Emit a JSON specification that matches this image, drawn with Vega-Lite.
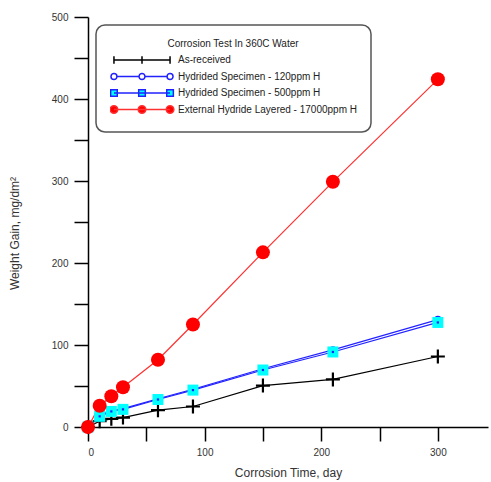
{
  "$schema": "https://vega.github.io/schema/vega-lite/v6.json",
  "width": 400,
  "height": 410,
  "autosize": "none",
  "padding": {"left": 88, "top": 17, "right": 3, "bottom": 55},
  "background": "white",
  "config": {
    "view": {"stroke": null},
    "font": "Liberation Sans",
    "axis": {
      "grid": false,
      "domainColor": "#000000",
      "domainWidth": 1.5,
      "tickColor": "#000000",
      "tickWidth": 1.5,
      "tickSize": 14,
      "labelFont": "Liberation Sans",
      "labelFontSize": 10,
      "labelColor": "#333333",
      "titleFont": "Liberation Sans",
      "titleFontSize": 12,
      "titleFontWeight": "normal",
      "titleColor": "#333333"
    },
    "legend": {"strokeWidth": 1.5}
  },
  "data": {
    "values": [
      {"series": "As-received", "day": 0, "gain": 0},
      {"series": "As-received", "day": 10, "gain": 7},
      {"series": "As-received", "day": 20, "gain": 10},
      {"series": "As-received", "day": 30, "gain": 11.5},
      {"series": "As-received", "day": 60, "gain": 20.5},
      {"series": "As-received", "day": 90, "gain": 25},
      {"series": "As-received", "day": 150, "gain": 50.5},
      {"series": "As-received", "day": 210, "gain": 58},
      {"series": "As-received", "day": 300, "gain": 86},
      {"series": "Hydrided Specimen - 120ppm H", "day": 0, "gain": 0},
      {"series": "Hydrided Specimen - 120ppm H", "day": 10, "gain": 14},
      {"series": "Hydrided Specimen - 120ppm H", "day": 20, "gain": 20},
      {"series": "Hydrided Specimen - 120ppm H", "day": 30, "gain": 22.5},
      {"series": "Hydrided Specimen - 120ppm H", "day": 60, "gain": 34.5},
      {"series": "Hydrided Specimen - 120ppm H", "day": 90, "gain": 46},
      {"series": "Hydrided Specimen - 120ppm H", "day": 150, "gain": 71},
      {"series": "Hydrided Specimen - 120ppm H", "day": 210, "gain": 94},
      {"series": "Hydrided Specimen - 120ppm H", "day": 300, "gain": 131},
      {"series": "Hydrided Specimen - 500ppm H", "day": 0, "gain": 0},
      {"series": "Hydrided Specimen - 500ppm H", "day": 10, "gain": 13},
      {"series": "Hydrided Specimen - 500ppm H", "day": 20, "gain": 19},
      {"series": "Hydrided Specimen - 500ppm H", "day": 30, "gain": 21.5},
      {"series": "Hydrided Specimen - 500ppm H", "day": 60, "gain": 33.5},
      {"series": "Hydrided Specimen - 500ppm H", "day": 90, "gain": 45},
      {"series": "Hydrided Specimen - 500ppm H", "day": 150, "gain": 69.5},
      {"series": "Hydrided Specimen - 500ppm H", "day": 210, "gain": 91.5},
      {"series": "Hydrided Specimen - 500ppm H", "day": 300, "gain": 127.5},
      {"series": "External Hydride Layered - 17000ppm H", "day": 0, "gain": 0},
      {"series": "External Hydride Layered - 17000ppm H", "day": 10, "gain": 26},
      {"series": "External Hydride Layered - 17000ppm H", "day": 20, "gain": 37.5},
      {"series": "External Hydride Layered - 17000ppm H", "day": 30, "gain": 48.5},
      {"series": "External Hydride Layered - 17000ppm H", "day": 60, "gain": 82},
      {"series": "External Hydride Layered - 17000ppm H", "day": 90, "gain": 125},
      {"series": "External Hydride Layered - 17000ppm H", "day": 150, "gain": 213},
      {"series": "External Hydride Layered - 17000ppm H", "day": 210, "gain": 299},
      {"series": "External Hydride Layered - 17000ppm H", "day": 300, "gain": 424}
    ]
  },
  "encoding": {
    "x": {
      "field": "day",
      "type": "quantitative",
      "scale": {"domain": [0, 343], "nice": false, "zero": false},
      "axis": {
        "title": "Corrosion Time, day",
        "values": [0, 50, 100, 150, 200, 250, 300],
        "labelExpr": "datum.value % 100 === 0 ? datum.label : ''",
        "labelPadding": 6,
        "titlePadding": 10,
        "encode": {"ticks": {"update": {"y2": {"signal": "datum.value % 100 === 0 ? 14 : 8"}}}}
      }
    },
    "y": {
      "field": "gain",
      "type": "quantitative",
      "scale": {"domain": [0, 500], "nice": false},
      "axis": {
        "title": "Weight Gain, mg/dm²",
        "values": [0, 50, 100, 150, 200, 250, 300, 350, 400, 450, 500],
        "labelExpr": "datum.value % 100 === 0 ? datum.label : ''",
        "labelPadding": 6,
        "titleX": -67,
        "titleY": 216,
        "encode": {"ticks": {"update": {"x2": {"signal": "datum.value % 100 === 0 ? -14 : -8"}}}}
      }
    }
  },
  "layer": [
    {
      "mark": {"type": "line", "strokeWidth": 1.2},
      "encoding": {
        "color": {
          "field": "series",
          "type": "nominal",
          "scale": {
            "domain": ["As-received", "Hydrided Specimen - 120ppm H", "Hydrided Specimen - 500ppm H", "External Hydride Layered - 17000ppm H"],
            "range": ["#000000", "#2222ff", "#2222ff", "#ff3030"]
          },
          "legend": {
            "orient": "none",
            "legendX": 8,
            "legendY": 8,
            "title": "Corrosion Test In 360C Water",
            "titleAnchor": "middle",
            "titleFont": "Liberation Sans",
            "titleFontWeight": "normal",
            "titleFontSize": 10,
            "titleColor": "#222222",
            "titlePadding": 3,
            "labelFont": "Liberation Sans",
            "labelFontSize": 10,
            "labelColor": "#222222",
            "labelOffset": 2,
            "labelLimit": 400,
            "symbolSize": 4356,
            "symbolStrokeWidth": 1.5,
            "symbolOffset": -2,
            "clipHeight": 16,
            "rowPadding": 0.5,
            "padding": 14,
            "cornerRadius": 9,
            "strokeColor": "#555555",
            "fillColor": "#ffffff",
            "encode": {
              "symbols": {
                "update": {
                  "shape": {"signal": "datum.value === 'As-received' ? 'M-0.85,0H0.85M-0.85,-0.11V0.11M0,-0.11V0.11M0.85,-0.11V0.11' : datum.value === 'Hydrided Specimen - 120ppm H' ? 'M-0.76,0H-0.09M0.09,0H0.76M-0.76,0A0.09,0.09,0,1,1,-0.94,0A0.09,0.09,0,1,1,-0.76,0ZM0.09,0A0.09,0.09,0,1,1,-0.09,0A0.09,0.09,0,1,1,0.09,0ZM0.94,0A0.09,0.09,0,1,1,0.76,0A0.09,0.09,0,1,1,0.94,0Z' : datum.value === 'Hydrided Specimen - 500ppm H' ? 'M-0.85,0H0.85M-0.95,-0.1H-0.75V0.1H-0.95ZM-0.1,-0.1H0.1V0.1H-0.1ZM0.75,-0.1H0.95V0.1H0.75Z' : 'M-0.85,0H0.85M-0.735,0A0.115,0.115,0,1,1,-0.965,0A0.115,0.115,0,1,1,-0.735,0ZM0.115,0A0.115,0.115,0,1,1,-0.115,0A0.115,0.115,0,1,1,0.115,0ZM0.965,0A0.115,0.115,0,1,1,0.735,0A0.115,0.115,0,1,1,0.965,0Z'"},
                  "fill": {"signal": "datum.value === 'As-received' ? 'transparent' : datum.value === 'Hydrided Specimen - 120ppm H' ? '#ffffff' : datum.value === 'Hydrided Specimen - 500ppm H' ? '#00ffff' : '#ff0000'"},
                  "stroke": {"signal": "datum.value === 'As-received' ? '#000000' : datum.value === 'Hydrided Specimen - 120ppm H' ? '#2222ff' : datum.value === 'Hydrided Specimen - 500ppm H' ? '#2222ff' : '#ff0000'"},
                  "opacity": {"value": 1}
                }
              }
            }
          }
        }
      }
    },
    {
      "transform": [{"filter": "datum.series === 'As-received'"}],
      "mark": {"type": "point", "shape": "M-1,0H1M0,-1V1", "size": 196, "filled": false, "color": "#000000", "strokeWidth": 2.2, "opacity": 1}
    },
    {
      "transform": [{"filter": "datum.series === 'Hydrided Specimen - 120ppm H'"}],
      "mark": {"type": "point", "shape": "circle", "size": 36, "filled": false, "color": "#2222ff", "fill": "#ffffff", "strokeWidth": 1.5, "opacity": 1}
    },
    {
      "transform": [{"filter": "datum.series === 'Hydrided Specimen - 500ppm H'"}],
      "mark": {"type": "point", "shape": "square", "size": 121, "filled": true, "color": "#00ffff", "opacity": 1}
    },
    {
      "transform": [{"filter": "datum.series === 'Hydrided Specimen - 500ppm H'"}],
      "mark": {"type": "point", "shape": "square", "size": 5, "filled": true, "color": "#2222ff", "opacity": 1}
    },
    {
      "transform": [{"filter": "datum.series === 'External Hydride Layered - 17000ppm H'"}],
      "mark": {"type": "point", "shape": "circle", "size": 196, "filled": true, "color": "#ff0000", "opacity": 1}
    }
  ]
}
